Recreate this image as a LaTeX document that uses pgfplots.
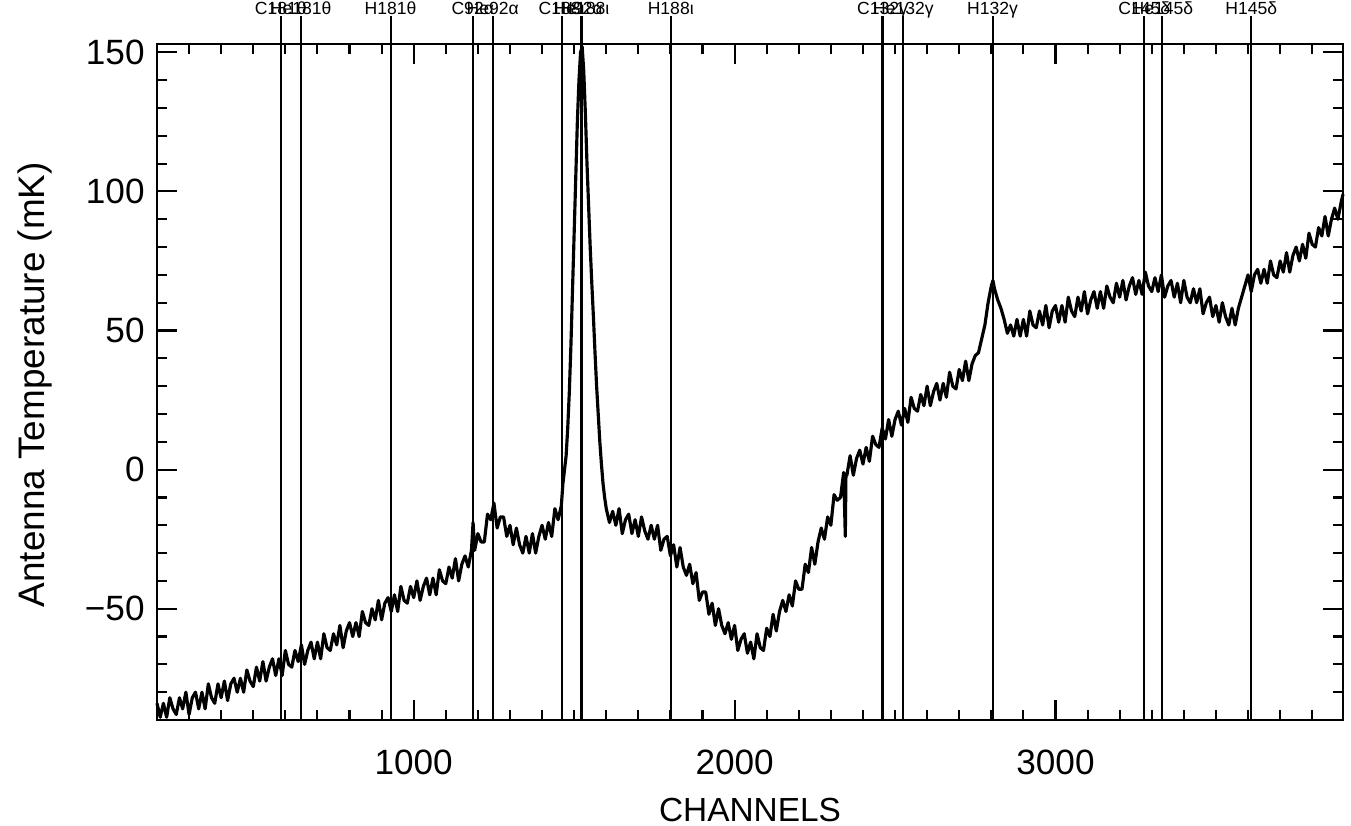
\documentclass[border=0pt]{standalone}
\usepackage{fontspec}
\setmainfont{Liberation Sans}
\usepackage{pgfplots}
\pgfplotsset{compat=1.18}

\begin{document}
\begin{tikzpicture}
\pgfplotsset{vline/.style={black, line width=0.6pt}}
\tikzset{lbl/.style={pos=1, anchor=base, yshift=0.5pt, inner sep=0pt, font=\fontsize{5}{6}\selectfont}}
\begin{axis}[
  name=ax, at={(0,0)}, anchor=south west,
  scale only axis, width=11.86cm, height=6.76cm,
  xmin=200, xmax=3896, ymin=-90, ymax=153,
  clip=false,
  axis line style={line width=0.7pt},
  xtick={1000,2000,3000}, xticklabels={1000,2000,3000},
  minor xtick={300,400,...,3800},
  ytick={-50,0,50,100,150}, yticklabels={−50,0,50,100,150},
  minor ytick={-80,-70,...,150},
  xtick pos=both, ytick pos=both, tick align=inside,
  major tick length=0.2cm, minor tick length=0.1cm,
  tick style={black, line width=0.6pt},
  tick label style={font=\fontsize{10}{12}\selectfont},
  xticklabel style={yshift=-0.18cm},
  xlabel={CHANNELS}, ylabel={Antenna Temperature (mK)},
  xlabel style={at={(axis description cs:0.5,-0.133)}, anchor=center, font=\fontsize{9.5}{12}\selectfont},
  ylabel style={at={(axis description cs:-0.103,0.496)}, anchor=center, font=\fontsize{10.5}{12}\selectfont},
]
% spectrum
\addplot[black, line width=0.9pt, line join=round, mark=none] coordinates {
(200,-84) (210,-89) (220,-84) (230,-89) (240,-82) (250,-86) (260,-88) (270,-82) (280,-86) (290,-80)
(300,-88) (310,-82) (320,-80) (330,-86) (340,-80) (350,-86) (360,-77) (370,-82) (380,-84) (390,-77)
(400,-82) (410,-76) (420,-83) (430,-77) (440,-75) (450,-80) (460,-75) (470,-80) (480,-72) (490,-76)
(500,-78) (510,-71) (520,-76) (530,-69) (540,-76) (550,-71) (560,-68) (570,-74) (580,-68) (590,-74)
(600,-65) (610,-70) (620,-71) (630,-65) (640,-69) (650,-63) (660,-70) (670,-65) (680,-62) (690,-68)
(700,-62) (710,-68) (720,-59) (730,-64) (740,-65) (750,-59) (760,-63) (770,-56) (780,-64) (790,-58)
(800,-55) (810,-60) (820,-55) (830,-60) (840,-51) (850,-55) (860,-56) (870,-50) (880,-54) (890,-47)
(900,-54) (910,-48) (920,-46) (930,-51) (940,-45) (950,-51) (960,-42) (970,-47) (980,-48) (990,-42)
(1000,-46) (1010,-40) (1020,-47) (1030,-42) (1040,-39) (1050,-45) (1060,-39) (1070,-45) (1080,-36) (1090,-40)
(1100,-41) (1110,-35) (1120,-39) (1130,-32) (1140,-40) (1150,-34) (1160,-31) (1170,-35) (1180,-29) (1185,-19)
(1190,-29) (1200,-23) (1210,-26) (1220,-26) (1230,-16) (1240,-18) (1250,-12) (1260,-21) (1270,-17) (1280,-17)
(1290,-24) (1300,-20) (1310,-27) (1320,-21) (1330,-27) (1340,-30) (1350,-24) (1360,-30) (1370,-23) (1380,-30)
(1390,-24) (1400,-20) (1410,-25) (1420,-19) (1430,-24) (1440,-14) (1450,-18) (1460,-13) (1465,-5) (1470,0)
(1475,5) (1480,15) (1485,28) (1490,45) (1495,65) (1500,85) (1505,105) (1510,125) (1515,140) (1520,150)
(1525,152) (1530,143) (1535,128) (1540,110) (1545,95) (1550,80) (1555,67) (1560,55) (1565,42) (1570,30)
(1575,20) (1580,10) (1585,2) (1590,-5) (1595,-10) (1600,-14) (1610,-19) (1620,-15) (1630,-20) (1640,-14)
(1650,-23) (1660,-18) (1670,-16) (1680,-23) (1690,-18) (1700,-24) (1710,-17) (1720,-22) (1730,-25) (1740,-20)
(1750,-25) (1760,-20) (1770,-29) (1780,-25) (1790,-24) (1800,-31) (1810,-27) (1820,-35) (1830,-28) (1840,-35)
(1850,-38) (1860,-34) (1870,-41) (1880,-37) (1890,-47) (1900,-44) (1910,-44) (1920,-52) (1930,-48) (1940,-56)
(1950,-50) (1960,-56) (1970,-59) (1980,-55) (1990,-61) (2000,-56) (2010,-65) (2020,-61) (2030,-59) (2040,-66)
(2050,-62) (2060,-68) (2070,-59) (2080,-64) (2090,-65) (2100,-57) (2110,-60) (2120,-52) (2130,-58) (2140,-51)
(2150,-47) (2160,-51) (2170,-45) (2180,-49) (2190,-40) (2200,-43) (2210,-43) (2220,-34) (2230,-37) (2240,-28)
(2250,-34) (2260,-26) (2270,-21) (2280,-25) (2290,-17) (2300,-20) (2310,-9) (2320,-11) (2330,-10) (2340,-1)
(2345,-24) (2347,-2) (2350,-2) (2360,5) (2370,-2) (2380,4) (2390,7) (2400,2) (2410,8) (2420,3)
(2430,12) (2440,9) (2450,8) (2460,15) (2470,11) (2480,18) (2490,12) (2500,18) (2510,21) (2520,16)
(2530,22) (2540,17) (2550,26) (2560,22) (2570,21) (2580,27) (2590,23) (2600,30) (2610,23) (2620,28)
(2630,31) (2640,25) (2650,31) (2660,26) (2670,35) (2680,30) (2690,29) (2700,36) (2710,32) (2720,39)
(2730,32) (2740,38) (2750,41) (2760,42) (2770,47) (2780,52) (2790,60) (2800,66) (2805,68) (2810,65)
(2820,61) (2830,58) (2840,54) (2850,49) (2860,52) (2870,48) (2880,54) (2890,48) (2900,54) (2910,48)
(2920,57) (2930,52) (2940,51) (2950,57) (2960,52) (2970,59) (2980,51) (2990,57) (3000,59) (3010,53)
(3020,59) (3030,53) (3040,62) (3050,57) (3060,55) (3070,62) (3080,57) (3090,64) (3100,56) (3110,61)
(3120,64) (3130,58) (3140,64) (3150,58) (3160,66) (3170,62) (3180,60) (3190,67) (3200,62) (3210,68)
(3220,61) (3230,66) (3240,69) (3250,63) (3260,68) (3270,63) (3280,71) (3290,66) (3300,64) (3310,69)
(3320,64) (3330,70) (3340,62) (3350,66) (3360,68) (3370,62) (3380,67) (3390,60) (3400,68) (3410,62)
(3420,60) (3430,65) (3440,60) (3450,65) (3460,56) (3470,60) (3480,62) (3490,55) (3500,59) (3510,53)
(3520,60) (3530,55) (3540,52) (3550,58) (3560,52) (3570,58) (3580,62) (3590,66) (3600,70) (3610,64)
(3620,70) (3630,72) (3640,67) (3650,72) (3660,67) (3670,75) (3680,70) (3690,69) (3700,75) (3710,71)
(3720,78) (3730,71) (3740,77) (3750,80) (3760,75) (3770,81) (3780,76) (3790,85) (3800,81) (3810,80)
(3820,87) (3830,84) (3840,91) (3850,84) (3860,90) (3870,94) (3880,90) (3890,96) (3896,99)
};
% line markers
\addplot[vline] coordinates {(586,-90) (586,163)} node[lbl] {C181θ};
\addplot[vline] coordinates {(648,-90) (648,163)} node[lbl] {He181θ};
\addplot[vline] coordinates {(928,-90) (928,163)} node[lbl] {H181θ};
\addplot[vline] coordinates {(1184,-90) (1184,163)} node[lbl] {C92α};
\addplot[vline] coordinates {(1246,-90) (1246,163)} node[lbl] {He92α};
\addplot[vline] coordinates {(1461,-90) (1461,163)} node[lbl] {C188ι};
\addplot[vline] coordinates {(1523,-90) (1523,163)} node[lbl] {He188ι};
\addplot[vline] coordinates {(1523,-90) (1523,163)} node[lbl] {H92α};
\addplot[vline] coordinates {(1801,-90) (1801,163)} node[lbl] {H188ι};
\addplot[vline] coordinates {(2461,-90) (2461,163)} node[lbl] {C132γ};
\addplot[vline] coordinates {(2526,-90) (2526,163)} node[lbl] {He132γ};
\addplot[vline] coordinates {(2804,-90) (2804,163)} node[lbl] {H132γ};
\addplot[vline] coordinates {(3277,-90) (3277,163)} node[lbl] {C145δ};
\addplot[vline] coordinates {(3333,-90) (3333,163)} node[lbl] {He145δ};
\addplot[vline] coordinates {(3610,-90) (3610,163)} node[lbl] {H145δ};
\end{axis}
\pgfresetboundingbox
\useasboundingbox ([shift={(-1.57cm,-1.05cm)}]ax.south west) rectangle ([shift={(0.08cm,0.44cm)}]ax.north east);
\end{tikzpicture}
\end{document}
